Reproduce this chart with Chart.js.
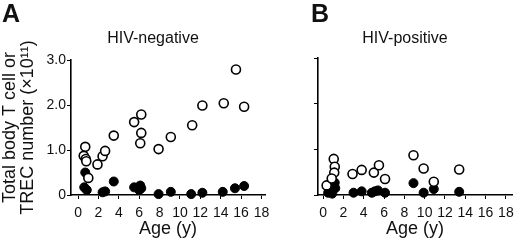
<!DOCTYPE html>
<html>
<head>
<meta charset="utf-8">
<script src="https://cdn.jsdelivr.net/npm/chart.js@4.4.0/dist/chart.umd.min.js"></script>
<style>
  body { margin: 0; background: #fff; }
  #wrap { position: relative; width: 520px; height: 249px; font-family: 'Liberation Sans', Arial, sans-serif; color: #111; }
  #wrap canvas { position: absolute; left: 0; top: 0; }
  .lbl { position: absolute; line-height: 1; white-space: nowrap; }
  .panel { font-size: 25px; font-weight: bold; }
  .ttl { font-size: 16px; width: 200px; text-align: center; }
</style>
</head>
<body>
<div id="wrap">
  <canvas id="chartA" width="520" height="249"></canvas>
  <canvas id="chartB" width="520" height="249"></canvas>
  <div class="lbl panel" style="left:2px; top:1px;">A</div>
  <div class="lbl panel" style="left:311px; top:1px;">B</div>
  <div class="lbl ttl" style="left:53px; top:30px;">HIV-negative</div>
  <div class="lbl ttl" style="left:305px; top:30px;">HIV-positive</div>
</div>
<script>
// HIV-negative: open = total body T cells, filled = TREC
var negCellAge = [0.7, 0.55, 0.75, 0.8, 1.0, 1.9, 2.4, 2.65, 3.5, 5.5, 6.2, 6.2, 6.1, 7.9, 9.1, 11.2, 12.2, 14.3, 15.5, 16.3];
var negCellVal = [1.07, 0.87, 0.8, 0.75, 0.38, 0.68, 0.86, 0.98, 1.32, 1.62, 1.79, 1.38, 1.15, 1.02, 1.29, 1.55, 1.99, 2.04, 2.79, 1.96];
var negTrecAge = [0.7, 0.6, 0.85, 2.4, 2.65, 3.5, 5.5, 6.1, 6.2, 6.0, 7.9, 9.1, 11.1, 12.2, 14.2, 15.4, 16.3];
var negTrecVal = [0.5, 0.17, 0.11, 0.06, 0.08, 0.3, 0.17, 0.21, 0.15, 0.11, 0.02, 0.07, 0.02, 0.05, 0.07, 0.15, 0.2];

// HIV-positive
var posCellAge = [0.35, 1.05, 1.15, 1.1, 0.85, 2.9, 3.8, 5.0, 5.5, 6.1, 8.9, 9.9, 10.9, 13.4];
var posCellVal = [0.21, 0.79, 0.62, 0.49, 0.36, 0.46, 0.55, 0.49, 0.65, 0.35, 0.87, 0.58, 0.29, 0.56];
var posTrecAge = [0.5, 0.8, 1.0, 1.15, 1.2, 0.9, 3.0, 3.8, 4.8, 5.1, 5.4, 6.1, 8.9, 9.9, 10.9, 13.4];
var posTrecVal = [0.05, 0.1, 0.2, 0.27, 0.15, 0.03, 0.05, 0.08, 0.05, 0.08, 0.1, 0.05, 0.26, 0.05, 0.13, 0.07];

var xTicks = [0, 2, 4, 6, 8, 10, 12, 14, 16, 18];
var yTicks = [0, 1, 2, 3];

Chart.defaults.font.family = "'Liberation Sans', Arial, sans-serif";
Chart.defaults.color = '#111';

function pts(xs, ys) {
  return xs.map(function (x, i) { return { x: x, y: ys[i] }; });
}

function makeChart(id, cellAge, cellVal, trecAge, trecVal, opt) {
  return new Chart(document.getElementById(id), {
    type: 'scatter',
    data: {
      datasets: [{
        data: pts(cellAge, cellVal),
        backgroundColor: '#fff',
        borderColor: '#000',
        borderWidth: 1.6,
        pointRadius: 4.5,
        clip: false
      }, {
        data: pts(trecAge, trecVal),
        backgroundColor: '#000',
        borderColor: '#000',
        borderWidth: 1,
        pointRadius: 4.5,
        clip: false
      }]
    },
    options: {
      responsive: false,
      animation: false,
      events: [],
      layout: { padding: opt.padding, autoPadding: false },
      plugins: { legend: { display: false }, tooltip: { enabled: false } },
      scales: {
        x: {
          type: 'linear',
          min: opt.xMin,
          max: opt.xMax,
          afterBuildTicks: function (s) { s.ticks = xTicks.map(function (v) { return { value: v }; }); },
          afterFit: function (s) { s.height = 54; },
          grid: { drawOnChartArea: false, color: '#000', tickLength: 4, lineWidth: 1 },
          border: { color: '#000', width: 1.6 },
          ticks: { font: { size: 14 }, padding: 6, maxRotation: 0, autoSkip: false },
          title: { display: true, text: 'Age (y)', font: { size: 18 }, padding: { top: 0, bottom: 9 } }
        },
        y: {
          min: 0,
          max: 3,
          afterBuildTicks: function (s) { s.ticks = yTicks.map(function (v) { return { value: v }; }); },
          afterFit: function (s) { s.width = opt.yWidth; },
          grid: { drawOnChartArea: false, color: '#000', tickLength: 4, lineWidth: 1 },
          border: { color: '#000', width: 1.6 },
          ticks: {
            display: opt.yLabels,
            font: { size: 14 },
            padding: 1,
            callback: function (v) { return v === 0 ? '0' : v.toFixed(1); }
          },
          title: {
            display: opt.yLabels,
            text: ['Total body T cell or', 'TREC number (×10¹¹)'],
            font: { size: 18, lineHeight: 1 },
            padding: { top: 1, bottom: 0 }
          }
        }
      }
    }
  });
}

makeChart('chartA', negCellAge, negCellVal, negTrecAge, negTrecVal, {
  padding: { left: 0, right: 255, top: 60, bottom: 0 },
  xMin: -0.7, xMax: 18.35, yWidth: 71, yLabels: true
});
makeChart('chartB', posCellAge, posCellVal, posTrecAge, posTrecVal, {
  padding: { left: 0, right: 8, top: 58, bottom: 0 },
  xMin: -0.5, xMax: 18.6, yWidth: 318, yLabels: false
});
</script>
</body>
</html>
